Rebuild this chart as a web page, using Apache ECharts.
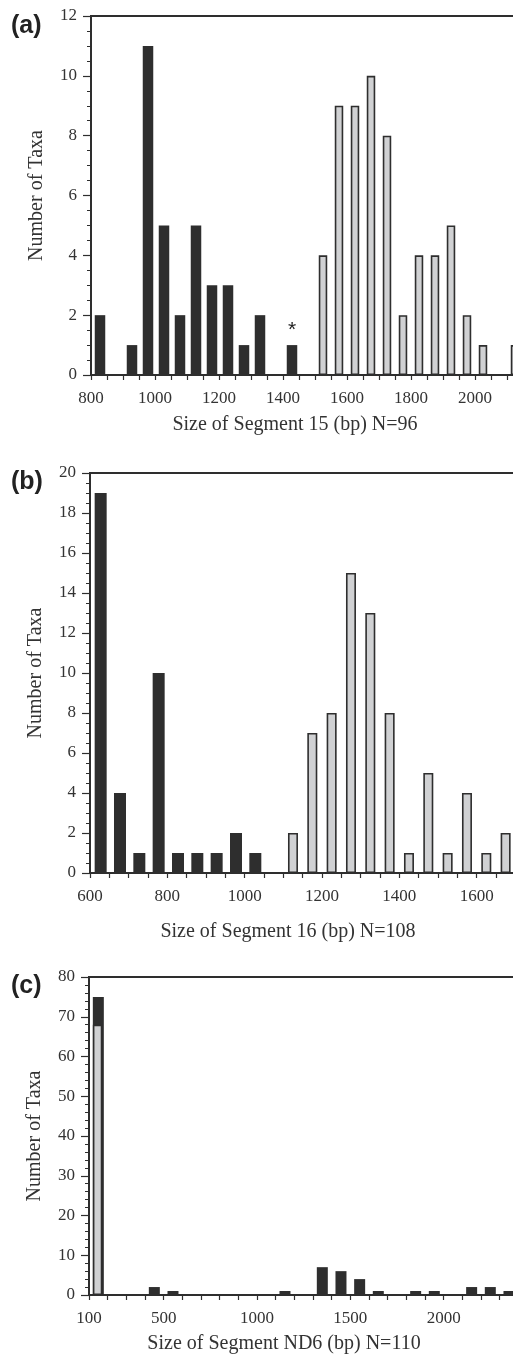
<!DOCTYPE html>
<html>
<head>
<meta charset="utf-8">
<script src="https://cdn.jsdelivr.net/npm/echarts@6/dist/echarts.min.js"></script>
<style>
html, body { margin: 0; padding: 0; background: #fff; }
#container { width: 513px; height: 1357px; }
</style>
</head>
<body>
<div id="container"></div>
<script>
// (a) segment 15, bins of 50 bp (bin start)
var aBlackBins = [800, 900, 950, 1000, 1050, 1100, 1150, 1200, 1250, 1300, 1400];
var aBlackCounts = [2, 1, 11, 5, 2, 5, 3, 3, 1, 2, 1];
var aGreyBins = [1500, 1550, 1600, 1650, 1700, 1750, 1800, 1850, 1900, 1950, 2000, 2100];
var aGreyCounts = [4, 9, 9, 10, 8, 2, 4, 4, 5, 2, 1, 1];
var aStarBin = 1400;

// (b) segment 16, bins of 50 bp
var bBlackBins = [600, 650, 700, 750, 800, 850, 900, 950, 1000];
var bBlackCounts = [19, 4, 1, 10, 1, 1, 1, 2, 1];
var bGreyBins = [1100, 1150, 1200, 1250, 1300, 1350, 1400, 1450, 1500, 1550, 1600, 1650];
var bGreyCounts = [2, 7, 8, 15, 13, 8, 1, 5, 1, 4, 1, 2];

// (c) ND6, bins of 100 bp
var cGreyBins = [100];
var cGreyCounts = [68];
var cBlackBins = [100, 400, 500, 1100, 1300, 1400, 1500, 1600, 1800, 1900, 2100, 2200, 2300];
var cBlackCounts = [7, 2, 1, 1, 7, 6, 4, 1, 1, 1, 2, 2, 1];

var dark = '#2e2e2e';
var grey = '#d0d1d3';
var serif = 'Liberation Serif';

var chart = echarts.init(document.getElementById('container'));

function pairs(bins, counts, half) {
	var out = [];
	for (var i = 0; i < bins.length; i++) out.push([bins[i] + half, counts[i]]);
	return out;
}

function xAxisCfg(g, min, max, step, showFn) {
	return {
		type: 'value', gridIndex: g, min: min, max: max, interval: step,
		axisLine: { lineStyle: { color: dark, width: 2 } },
		axisTick: { length: 5, lineStyle: { color: dark, width: 1.2 } },
		axisLabel: {
			margin: 15, color: '#333', fontFamily: serif, fontSize: 17,
			formatter: function (v) { return showFn(v) ? String(v) : ''; }
		},
		splitLine: { show: false }
	};
}

function yAxisCfg(g, max, step, minorSplit) {
	return {
		type: 'value', gridIndex: g, min: 0, max: max, interval: step,
		name: 'Number of Taxa', nameLocation: 'middle', nameGap: 44,
		nameTextStyle: { color: '#333', fontFamily: serif, fontSize: 20 },
		axisLine: { show: true, lineStyle: { color: dark, width: 2 } },
		axisTick: { show: true, length: 8, lineStyle: { color: dark, width: 1.2 } },
		minorTick: { show: true, splitNumber: minorSplit, length: 4, lineStyle: { color: dark, width: 1 } },
		axisLabel: { margin: 14, color: '#333', fontFamily: serif, fontSize: 17 },
		splitLine: { show: false }
	};
}

function blackSeries(g, data, w) {
	return { type: 'bar', xAxisIndex: g, yAxisIndex: g, barWidth: w, barGap: '-100%',
		itemStyle: { color: dark }, data: data, animation: false };
}
function greySeries(g, data, w) {
	return { type: 'bar', xAxisIndex: g, yAxisIndex: g, barWidth: w, barGap: '-100%',
		itemStyle: { color: grey, borderColor: dark, borderWidth: 1.6 }, data: data, animation: false };
}

// (a) data, with the asterisk bar
var aBlack = pairs(aBlackBins, aBlackCounts, 25).map(function (p) {
	if (p[0] - 25 === aStarBin) {
		return { value: p, label: { show: true, position: 'top', distance: 4, formatter: '*',
			color: '#222', fontFamily: 'Liberation Sans', fontSize: 21 } };
	}
	return p;
});

// (c) where a black count sits on a grey one, draw the black bar to the
// summed height behind the grey bar
var cUnder = [], cPlainBlack = [];
for (var i = 0; i < cBlackBins.length; i++) {
	var gi = cGreyBins.indexOf(cBlackBins[i]);
	if (gi >= 0) cUnder.push([cBlackBins[i] + 50, cBlackCounts[i] + cGreyCounts[gi]]);
	else cPlainBlack.push([cBlackBins[i] + 50, cBlackCounts[i]]);
}

var gridBase = { show: true, borderColor: dark, borderWidth: 2, backgroundColor: 'transparent',
	outerBoundsMode: 'none', containLabel: false };

var option = {
	animation: false,
	grid: [
		Object.assign({ left: 91, top: 16, width: 432, height: 359 }, gridBase),
		Object.assign({ left: 90, top: 473, width: 425.3, height: 400 }, gridBase),
		Object.assign({ left: 89, top: 977, width: 429.3, height: 318 }, gridBase)
	],
	xAxis: [
		xAxisCfg(0, 800, 2150, 50, function (v) { return v % 200 === 0; }),
		xAxisCfg(1, 600, 1700, 50, function (v) { return v % 200 === 0; }),
		xAxisCfg(2, 100, 2400, 100, function (v) { return v === 100 || v % 500 === 0; })
	],
	yAxis: [
		yAxisCfg(0, 12, 2, 4),
		yAxisCfg(1, 20, 2, 4),
		yAxisCfg(2, 80, 10, 5)
	],
	series: [
		blackSeries(0, aBlack, 10.5),
		greySeries(0, pairs(aGreyBins, aGreyCounts, 25), 8.5),
		blackSeries(1, pairs(bBlackBins, bBlackCounts, 25), 12),
		greySeries(1, pairs(bGreyBins, bGreyCounts, 25), 10),
		blackSeries(2, cUnder, 11),
		greySeries(2, pairs(cGreyBins, cGreyCounts, 50), 9.5),
		blackSeries(2, cPlainBlack, 11)
	],
	graphic: [
		{ type: 'text', left: 11, top: 14, style: { text: '(a)', fill: '#222', font: 'bold 25px "Liberation Sans"' } },
		{ type: 'text', left: 11, top: 470, style: { text: '(b)', fill: '#222', font: 'bold 25px "Liberation Sans"' } },
		{ type: 'text', left: 11, top: 974, style: { text: '(c)', fill: '#222', font: 'bold 25px "Liberation Sans"' } },
		{ type: 'text', x: 295, y: 425, style: { text: 'Size of Segment 15 (bp) N=96', fill: '#333', font: '20px "Liberation Serif"', align: 'center', verticalAlign: 'middle' } },
		{ type: 'text', x: 288, y: 932, style: { text: 'Size of Segment 16 (bp) N=108', fill: '#333', font: '20px "Liberation Serif"', align: 'center', verticalAlign: 'middle' } },
		{ type: 'text', x: 284, y: 1344, style: { text: 'Size of Segment ND6 (bp) N=110', fill: '#333', font: '20px "Liberation Serif"', align: 'center', verticalAlign: 'middle' } }
	]
};

chart.setOption(option);
window.addEventListener('resize', function () {
	chart.resize();
});
</script>
</body>
</html>
